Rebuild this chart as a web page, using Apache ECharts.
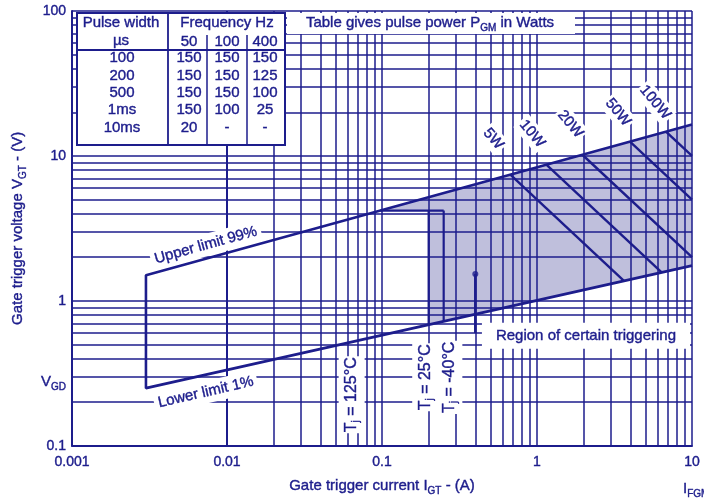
<!DOCTYPE html>
<html>
<head>
<meta charset="utf-8">
<script src="https://cdn.jsdelivr.net/npm/echarts@6/dist/echarts.min.js"></script>
<style>
  html, body { margin: 0; padding: 0; background: #fff; }
  #chart { width: 704px; height: 501px; }
</style>
</head>
<body>
<div id="chart"></div>
<script>
// ---- data -------------------------------------------------------------
// Axis tick labels (decades)
const xTickLabels = ['0.001', '0.01', '0.1', '1', '10'];
const yTickLabels = ['0.1', '1', '10', '100'];

// Boundary of the trigger characteristic: gate current (A) / gate voltage (V)
const limitCurrent = [0.003, 10];
const upperLimitVoltage = [1.5, 16.5];   // upper limit 99 %
const lowerLimitVoltage = [0.25, 1.75];  // lower limit 1 %

// Constant pulse power lines (start on upper limit, end on lower limit or at I_FGM)
const powerNames = ['5W', '10W', '20W', '50W', '100W'];
const powerCurrent = [[0.673, 3.64], [1.149, 6.37], [1.962, 10], [3.98, 10], [6.79, 10]];
const powerVoltage = [[7.43, 1.374], [8.70, 1.57], [10.19, 2.0], [12.56, 5.0], [14.72, 10.0]];

// Region of certain triggering (outline vertices)
const regionCurrent = [0.0975, 0.2, 0.2, 10, 10];
const regionVoltage = [4.2, 4.2, 0.684, 1.75, 16.5];

// Temperature bracket: V_GT(max) step and I_GT(max) edges
const bracketVoltage = 4.2;
const bracketCurrent = [0.0975, 0.25];
const edgeCurrent = [0.2, 0.25];
const edgeLowerVoltage = [0.684, 0.72];
const markCurrent = 0.4;
const markVoltage = [1.53, 0.6];

// V_GD level
const vgdVoltage = 0.274;

// Pulse power table
const pulseWidths = ['100', '200', '500', '1ms', '10ms'];
const frequencies = ['50', '100', '400'];
const pulsePower = [
  ['150', '150', '150'],
  ['150', '150', '125'],
  ['150', '150', '100'],
  ['150', '100', '25'],
  ['20', '-', '-']
];

// ---- styling ----------------------------------------------------------
const INK = '#1d1d8c';
const FONT = '"Liberation Sans", Arial, Helvetica, sans-serif';
const EDGE = 0.4; // slight text outline for the printed weight

// subscript style for option-level texts (axis names)
const RICH_OPT = {
  s: { fontSize: 10, lineHeight: 8, verticalAlign: 'bottom', color: INK,
       fontFamily: FONT, textBorderColor: INK, textBorderWidth: EDGE }
};
// subscript style for element-level texts (custom series / graphic)
const RICH_EL = {
  s: { font: '10px ' + FONT, lineHeight: 8, verticalAlign: 'bottom',
       fill: INK, stroke: INK, lineWidth: EDGE }
};

// log grid lines: 1..9 per decade
const xGrid = [];
for (let e = -3; e <= 0; e++) for (let m = 1; m <= 9; m++) xGrid.push(+(m * Math.pow(10, e)).toPrecision(3));
xGrid.push(10);
const yGrid = [];
for (let e = -1; e <= 1; e++) for (let m = 1; m <= 9; m++) yGrid.push(+(m * Math.pow(10, e)).toPrecision(3));
yGrid.push(100);

const decadeIndex = (v, base) => Math.round(Math.log10(v)) - base;

// text annotations anchored in data coordinates
const annotations = [
  { at: [0.0073, 2.42], text: 'Upper limit 99%', rotate: 15.5, pad: [1, 4], size: 15 },
  { at: [0.0073, 0.234], text: 'Lower limit 1%', rotate: 13, pad: [1, 4], size: 15 },
  { at: [2.07, 0.575], text: 'Region of certain triggering', rotate: 0, pad: [3, 14], size: 15 },
  { at: [0.0637, 0.225], text: 'T{s|j} = 125°C', rotate: 90, pad: [3, 1], size: 16 },
  { at: [0.19, 0.297], text: 'T{s|j} = 25°C', rotate: 90, pad: [3, 1], size: 16 },
  { at: [0.272, 0.297], text: 'T{s|j} = -40°C', rotate: 90, pad: [3, 1], size: 16 },
  { at: [0.522, 13.1], text: powerNames[0], rotate: -50, pad: [0, 2], size: 15 },
  { at: [0.93, 14.2], text: powerNames[1], rotate: -50, pad: [0, 2], size: 15 },
  { at: [1.64, 16.6], text: powerNames[2], rotate: -50, pad: [0, 2], size: 15 },
  { at: [3.33, 20.0], text: powerNames[3], rotate: -50, pad: [0, 2], size: 15 },
  { at: [5.78, 23.4], text: powerNames[4], rotate: -50, pad: [0, 2], size: 15 }
];

// ---- series -----------------------------------------------------------
const series = [];

// shaded region of certain triggering
series.push({
  type: 'custom', z: 1, silent: true,
  data: [[1, 1]],
  renderItem: (params, api) => ({
    type: 'polygon',
    shape: { points: regionCurrent.map((c, i) => api.coord([c, regionVoltage[i]])) },
    style: { fill: 'rgba(60,62,150,0.33)' }
  })
});

// log grid
series.push({
  type: 'line', z: 2, silent: true, symbol: 'none',
  data: [[1, 1]], lineStyle: { opacity: 0 },
  markLine: {
    silent: true, symbol: ['none', 'none'], label: { show: false },
    lineStyle: { color: INK, width: 1.5, type: 'solid' },
    animation: false,
    data: xGrid.map(v => ({ xAxis: v })).concat(yGrid.map(v => ({ yAxis: v })))
  }
});

// upper / lower limit with the left closing edge
series.push({
  type: 'line', z: 4, silent: true, symbol: 'none',
  lineStyle: { color: INK, width: 2.6 },
  data: [
    [limitCurrent[1], upperLimitVoltage[1]],
    [limitCurrent[0], upperLimitVoltage[0]],
    [limitCurrent[0], lowerLimitVoltage[0]],
    [limitCurrent[1], lowerLimitVoltage[1]]
  ]
});

// constant power lines
powerNames.forEach((name, i) => {
  series.push({
    type: 'line', name, z: 4, silent: true, symbol: 'none',
    lineStyle: { color: INK, width: 2.4 },
    data: [[powerCurrent[i][0], powerVoltage[i][0]], [powerCurrent[i][1], powerVoltage[i][1]]]
  });
});

// temperature bracket lines
series.push({
  type: 'line', z: 4, silent: true, symbol: 'none',
  lineStyle: { color: INK, width: 2.2 },
  data: [[bracketCurrent[0], bracketVoltage], [bracketCurrent[1], bracketVoltage]]
});
edgeCurrent.forEach((c, i) => {
  series.push({
    type: 'line', z: 4, silent: true, symbol: 'none',
    lineStyle: { color: INK, width: 2.2 },
    data: [[c, bracketVoltage], [c, edgeLowerVoltage[i]]]
  });
});
series.push({
  type: 'line', z: 4, silent: true, symbol: 'none',
  lineStyle: { color: INK, width: 2.6 },
  data: [[markCurrent, markVoltage[0]], [markCurrent, markVoltage[1]]]
});
series.push({
  type: 'scatter', z: 5, silent: true, symbolSize: 6,
  itemStyle: { color: INK },
  data: [[markCurrent, markVoltage[0]]]
});

// text annotations on white backing
series.push({
  type: 'custom', z: 10, silent: true,
  data: annotations.map(a => a.at),
  renderItem: (params, api) => {
    const a = annotations[params.dataIndex];
    const p = api.coord([api.value(0), api.value(1)]);
    return {
      type: 'text', x: p[0], y: p[1], rotation: a.rotate * Math.PI / 180,
      style: {
        text: a.text, fill: INK, font: a.size + 'px ' + FONT,
        stroke: INK, lineWidth: EDGE,
        align: 'center', verticalAlign: 'middle', lineHeight: 20,
        backgroundColor: '#fff', padding: a.pad, rich: RICH_EL
      }
    };
  }
});

// V_GD on the voltage axis
series.push({
  type: 'custom', z: 10, silent: true,
  data: [[0.001, vgdVoltage]],
  renderItem: (params, api) => {
    const p = api.coord([api.value(0), api.value(1)]);
    return {
      type: 'text', x: p[0] - 6, y: p[1],
      style: {
        text: 'V{s|GD}', fill: INK, font: '15px ' + FONT, stroke: INK, lineWidth: EDGE,
        align: 'right', verticalAlign: 'middle', lineHeight: 20, rich: RICH_EL
      }
    };
  }
});

// ---- table and header graphics -----------------------------------------
const T = { x0: 77, x1: 285, y0: 13, y1: 145, split: 168, head: 50, sub: 35 };
const colX = [189, 227, 265];
const sepX = [207, 247];
const rowY = [58, 76, 93, 110, 128];
const gText = (x, y, text) => ({
  type: 'text', z: 101, x, y,
  style: { text, fill: INK, stroke: INK, lineWidth: EDGE, font: '15px ' + FONT,
           align: 'center', verticalAlign: 'middle', lineHeight: 20, rich: RICH_EL }
});

const graphic = [
  { type: 'rect', z: 100, shape: { x: T.x0, y: T.y0, width: T.x1 - T.x0, height: T.y1 - T.y0 },
    style: { fill: '#fff', stroke: INK, lineWidth: 2 } },
  { type: 'line', z: 101, shape: { x1: T.split, y1: T.y0, x2: T.split, y2: T.y1 }, style: { stroke: INK, lineWidth: 1.8 } },
  { type: 'line', z: 101, shape: { x1: T.x0, y1: T.head, x2: T.x1, y2: T.head }, style: { stroke: INK, lineWidth: 1.8 } },
  ...sepX.map(x => ({ type: 'line', z: 101, shape: { x1: x, y1: T.sub, x2: x, y2: T.y1 }, style: { stroke: INK, lineWidth: 1.5 } })),
  gText(121, 23, 'Pulse width'),
  gText(121, 41, 'µs'),
  gText(227, 23, 'Frequency Hz'),
  ...frequencies.map((f, j) => gText(colX[j], 42, f)),
  ...pulseWidths.map((p, i) => gText(122, rowY[i], p)),
  ...pulsePower.flatMap((row, i) => row.map((v, j) => gText(colX[j], rowY[i], v))),
  // heading band to the right of the table
  { type: 'rect', z: 100, shape: { x: 287, y: 13, width: 288, height: 21 }, style: { fill: '#fff' } },
  gText(430, 23, 'Table gives pulse power P{s|GM} in Watts'),
  // I_FGM under the current axis end
  { type: 'text', z: 101, x: 683, y: 479,
    style: { text: 'I{s|FGM}', fill: INK, stroke: INK, lineWidth: EDGE, font: '15px ' + FONT,
             align: 'left', verticalAlign: 'top', lineHeight: 20, rich: RICH_EL } }
];

// ---- chart ------------------------------------------------------------
const axisText = { color: INK, fontFamily: FONT, fontSize: 14, textBorderColor: INK, textBorderWidth: EDGE };
const chart = echarts.init(document.getElementById('chart'), null, { renderer: 'canvas' });
chart.setOption({
  animation: false,
  backgroundColor: '#fff',
  grid: { left: 71, right: 12, top: 11, bottom: 52 },
  xAxis: {
    type: 'log', logBase: 10, min: 0.001, max: 10,
    name: 'Gate trigger current I{s|GT} - (A)', nameLocation: 'middle', nameGap: 30,
    nameTextStyle: Object.assign({}, axisText, { fontSize: 15, lineHeight: 20, rich: RICH_OPT }),
    axisLine: { show: true, lineStyle: { color: INK, width: 2 } },
    axisTick: { show: false },
    splitLine: { show: false },
    axisLabel: Object.assign({}, axisText, {
      margin: 9,
      formatter: v => xTickLabels[decadeIndex(v, -3)] || ''
    })
  },
  yAxis: {
    type: 'log', logBase: 10, min: 0.1, max: 100,
    name: 'Gate trigger voltage V{s|GT} - (V)', nameLocation: 'middle', nameGap: 44, nameRotate: 90,
    nameTextStyle: Object.assign({}, axisText, { fontSize: 15, lineHeight: 20, rich: RICH_OPT }),
    axisLine: { show: true, lineStyle: { color: INK, width: 2 } },
    axisTick: { show: false },
    splitLine: { show: false },
    axisLabel: Object.assign({}, axisText, {
      margin: 6,
      formatter: v => yTickLabels[decadeIndex(v, -1)] || ''
    })
  },
  series,
  graphic
});
</script>
</body>
</html>
